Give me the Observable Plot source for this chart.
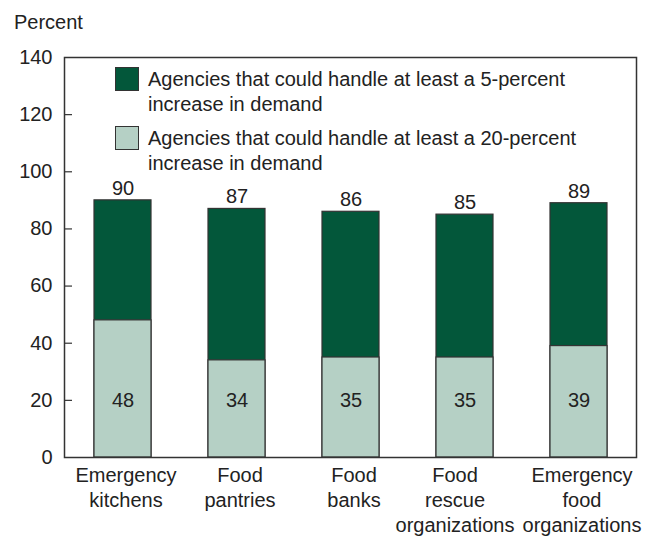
<!DOCTYPE html>
<html>
<head>
<meta charset="utf-8">
<script src="https://cdn.jsdelivr.net/npm/d3@7"></script>
<script src="https://cdn.jsdelivr.net/npm/@observablehq/plot@0.6"></script>
<style>
  html, body { margin: 0; padding: 0; background: #fff; }
  #wrap { position: relative; width: 655px; height: 537px; font-family: "Liberation Sans", Arial, sans-serif; color: #222; }
  #wrap svg { position: absolute; left: 0; top: 0; }
  .ylab { position: absolute; left: 14px; top: 11px; font-size: 20px; }
  .legend { position: absolute; left: 115px; top: 67px; font-size: 20px; line-height: 24.5px; }
  .item { display: flex; align-items: flex-start; margin-bottom: 10px; }
  .sw { width: 22px; height: 22px; border: 1px solid #333; margin-right: 9px; flex: none; }
  .item .t { margin-top: 0px; }
</style>
</head>
<body>
<div id="wrap">
  <div class="ylab">Percent</div>
  <div class="legend" id="legend"></div>
</div>
<script>
const categories = ["Emergency kitchens", "Food pantries", "Food banks", "Food rescue organizations", "Emergency food organizations"];
const tickLabels = ["Emergency\nkitchens", "Food\npantries", "Food\nbanks", "Food\nrescue\norganizations", "Emergency\nfood\norganizations"];
const handle5 = [90, 87, 86, 85, 89];
const handle20 = [48, 34, 35, 35, 39];
const seriesNames = ["Agencies that could handle at least a 5-percent\nincrease in demand", "Agencies that could handle at least a 20-percent\nincrease in demand"];
const yTicks = [0, 20, 40, 60, 80, 100, 120, 140];

const darkGreen = "#03573a";
const lightGreen = "#b5d0c5";

const rows = categories.map((c, i) => ({cat: c, label: tickLabels[i], v5: handle5[i], v20: handle20[i]}));
const shifted = categories[3];

const chart = Plot.plot({
  width: 655,
  height: 537,
  marginLeft: 64,
  marginRight: 19,
  marginTop: 57,
  marginBottom: 80,
  style: {fontFamily: "'Liberation Sans', Arial, sans-serif", fontSize: "20px", color: "#222", background: "transparent"},
  x: {domain: categories, paddingInner: 0.5, paddingOuter: 0.25, axis: null},
  y: {domain: [0, 140]},
  marks: [
    Plot.barY(rows, {x: "cat", y1: 0, y2: "v5", fill: darkGreen, stroke: "#333", strokeWidth: 1.2}),
    Plot.barY(rows, {x: "cat", y1: 0, y2: "v20", fill: lightGreen, stroke: "#333", strokeWidth: 1.2}),
    Plot.text(rows, {x: "cat", y: "v5", text: d => String(d.v5), dy: -12, fontSize: 20, fill: "#222"}),
    Plot.text(rows, {x: "cat", y: () => 20, text: d => String(d.v20), fontSize: 20, fill: "#222"}),
    Plot.axisY({ticks: yTicks, tickSize: 0, tickPadding: 12, label: null, fontSize: 20, fill: "#222"}),
    Plot.axisY({ticks: yTicks.slice(1, -1), tickSize: -8, tickFormat: () => "", label: null, stroke: "#333", strokeWidth: 1.2}),
    Plot.text(rows.filter(r => r.cat !== shifted), {x: "cat", text: "label", frameAnchor: "bottom", lineAnchor: "top", dy: 7, dx: 3, lineHeight: 1.25, fontSize: 20, fill: "#222"}),
    Plot.text(rows.filter(r => r.cat === shifted), {x: "cat", text: "label", frameAnchor: "bottom", lineAnchor: "top", dy: 7, dx: -10, lineHeight: 1.25, fontSize: 20, fill: "#222"}),
    Plot.frame({stroke: "#333", strokeWidth: 1.5})
  ]
});
document.getElementById("wrap").appendChild(chart);

const legend = document.getElementById("legend");
[[darkGreen, seriesNames[0]], [lightGreen, seriesNames[1]]].forEach(([c, t]) => {
  const it = document.createElement("div");
  it.className = "item";
  const sw = document.createElement("div");
  sw.className = "sw";
  sw.style.background = c;
  const tx = document.createElement("div");
  tx.className = "t";
  tx.innerHTML = t.split("\n").join("<br>");
  it.appendChild(sw);
  it.appendChild(tx);
  legend.appendChild(it);
});
</script>
</body>
</html>
